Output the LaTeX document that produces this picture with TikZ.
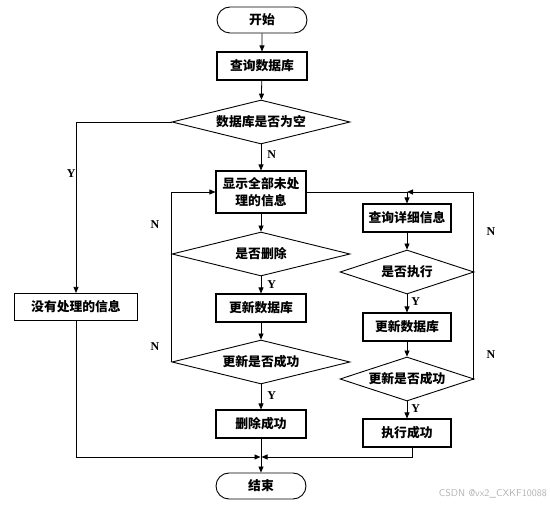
\documentclass[tikz,border=0pt]{standalone}
\usepackage{fontspec}
\setmainfont{Liberation Serif}
\newfontfamily\cjk{Noto Sans CJK SC}
\usetikzlibrary{shapes.geometric,shapes.misc,arrows.meta}
\begin{document}
\begin{tikzpicture}[x=1pt,y=-1pt,
  font=\cjk\bfseries\fontsize{12.8}{17}\selectfont,
  every node/.style={inner sep=0pt},
  term/.style={rounded rectangle,draw,line width=0.9pt,minimum width=90pt,minimum height=26pt},
  box/.style={rectangle,draw,line width=1.1pt,minimum width=90pt,minimum height=28pt},
  dec/.style={diamond,draw,line width=0.9pt,aspect=4,minimum height=44pt},
  conn/.style={line width=0.8pt},
  arr/.style={conn,-{Triangle[length=6pt,width=5pt]}},
  yn/.style={font=\rmfamily\bfseries\fontsize{12}{13}\selectfont}
]
\useasboundingbox (0,0) rectangle (550,505);
% left/main column
\node[term] (start) at (262,20) {开始};
\node[box] (qdb) at (262,66) {查询数据库};
\node[dec,minimum width=178pt] (empty) at (261,122) {数据库是否为空};
\node[box,minimum height=42pt,align=center] (disp) at (261,192) {显示全部未处\\理的信息};
\node[dec,minimum width=178pt] (del) at (261,254) {是否删除};
\node[box] (upd1) at (261,308) {更新数据库};
\node[dec,minimum width=178pt] (ok1) at (261,362) {更新是否成功};
\node[box] (delok) at (261,424) {删除成功};
\node[term] (end) at (261,486) {结束};
% far left
\node[box,minimum width=123pt,minimum height=27pt] (none) at (76,307) {没有处理的信息};
% right column
\node[box,minimum width=88pt] (detail) at (407,218) {查询详细信息};
\node[dec,minimum width=134pt] (exe) at (407,272) {是否执行};
\node[box,minimum width=88pt] (upd2) at (407,327) {更新数据库};
\node[dec,minimum width=134pt] (ok2) at (407,379) {更新是否成功};
\node[box,minimum width=88pt] (exeok) at (407,433) {执行成功};
% helper coordinates
\coordinate (j) at (407,192);
\coordinate (rr) at (473,192);
\coordinate (ml) at (261,457);
% connectors
\draw[arr] (start) -- (qdb);
\draw[arr] (qdb) -- (empty);
\draw[arr] (empty) -- node[yn,right=6pt,pos=0.4]{N} (disp);
\draw[arr] (empty.west) -| node[yn,pos=0.65,left=0pt]{Y} (none.north);
\draw[arr] (disp) -- (del);
\draw[arr] (del) -- node[yn,right=6pt,pos=0.45]{Y} (upd1);
\draw[arr] (upd1) -- (ok1);
\draw[arr] (ok1) -- node[yn,right=6pt,pos=0.45]{Y} (delok);
\draw[arr] (delok) -- (end);
\draw[arr] (del.west) |- (disp.west);
\draw[conn] (ok1.west) -- (del.west);
\node[yn] at (155,225) {N};
\node[yn] at (155,347) {N};
\draw[arr] (none.south) |- ([xshift=-0.5pt]ml);
\draw[arr] ([xshift=5pt]exeok.south) |- ([xshift=0.5pt]ml);
\draw[conn] (disp.east) -- (j);
\draw[arr] (j) -- (detail);
\draw[arr] (detail) -- (exe);
\draw[arr] (exe) -- node[yn,right=4pt,pos=0.4]{Y} (upd2);
\draw[arr] (upd2) -- (ok2);
\draw[arr] (ok2) -- node[yn,right=4pt,pos=0.4]{Y} (exeok);
\draw[conn] (exe.east) -- (exe.east -| rr);
\draw[arr] (ok2.east) -- (ok2.east -| rr) -- (rr) -- (j);
\node[yn] at (491,232) {N};
\node[yn] at (491,355) {N};
\node[font=\sffamily\fontsize{10}{12}\selectfont,text=black!30,anchor=east] (wm) at (547,494) {CSDN @vx2\_CXKF10088};
\end{tikzpicture}
\end{document}
